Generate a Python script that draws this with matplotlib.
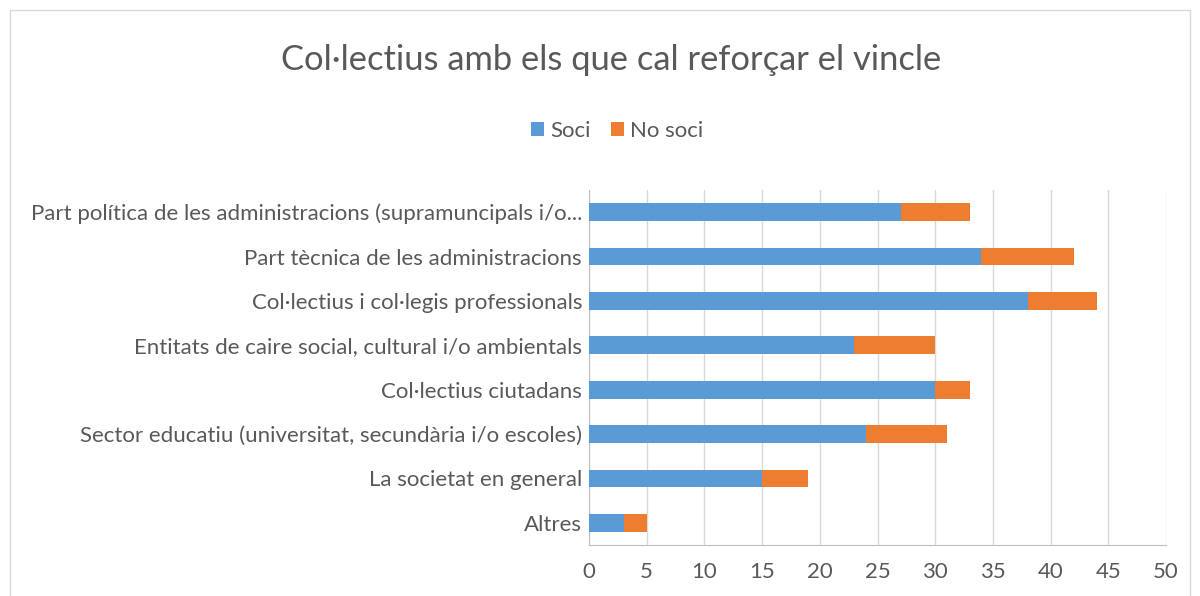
import matplotlib
matplotlib.use("Agg")
import matplotlib.pyplot as plt
from matplotlib.patches import Rectangle

categories = [
    "Part política de les administracions (supramuncipals i/o...",
    "Part tècnica de les administracions",
    "Col·lectius i col·legis professionals",
    "Entitats de caire social, cultural i/o ambientals",
    "Col·lectius ciutadans",
    "Sector educatiu (universitat, secundària i/o escoles)",
    "La societat en general",
    "Altres",
]
soci = [27, 34, 38, 23, 30, 24, 15, 3]
no_soci = [6, 8, 6, 7, 3, 7, 4, 2]
xticks = [0, 5, 10, 15, 20, 25, 30, 35, 40, 45, 50]
title = "Col·lectius amb els que cal reforçar el vincle"
series_names = ["Soci", "No soci"]

plt.rcParams['font.family'] = ['Lato', 'DejaVu Sans']
TXT = "#595959"
BLUE = "#5B9BD5"
ORANGE = "#ED7D31"

fig = plt.figure(figsize=(12, 5.96), dpi=100)
fig.patches.append(Rectangle((10/1200, -0.1), 1180/1200, 1.1 - 10/596,
                             transform=fig.transFigure, fill=False,
                             edgecolor="#D9D9D9", linewidth=1))
ax = fig.add_axes([589/1200, 1 - 545/596, (1166 - 589)/1200, (545 - 190)/596])

y = list(range(len(categories)))[::-1]
ax.barh(y, soci, height=0.4, color=BLUE, label=series_names[0], zorder=3)
ax.barh(y, no_soci, left=soci, height=0.4, color=ORANGE, label=series_names[1], zorder=3)

ax.set_xlim(0, 50)
ax.set_ylim(-0.5, len(categories) - 0.5)
ax.set_xticks(xticks)
ax.set_xticklabels([str(v) for v in xticks], fontsize=16, color=TXT)
ax.set_yticks(y)
ax.set_yticklabels(categories, fontsize=16, color=TXT)
ax.tick_params(axis='both', length=0)
ax.tick_params(axis='x', pad=12)
ax.tick_params(axis='y', pad=5)
ax.grid(axis='x', color="#D9D9D9", linewidth=1, zorder=0)
for s in ["top", "right"]:
    ax.spines[s].set_visible(False)
ax.spines["left"].set_color("#BFBFBF")
ax.spines["bottom"].set_color("#BFBFBF")

fig.text(611/1200, 1 - 60/596, title, ha="center", va="center", fontsize=24.8, color=TXT)
fig.legend(loc="center", bbox_to_anchor=(617/1200, 1 - 131/596), ncol=2, frameon=False,
           fontsize=16, labelcolor=TXT, handlelength=0.59, handleheight=0.59,
           handletextpad=0.27, columnspacing=0.9, borderpad=0, borderaxespad=0)

fig.savefig("out.png", dpi=100)
